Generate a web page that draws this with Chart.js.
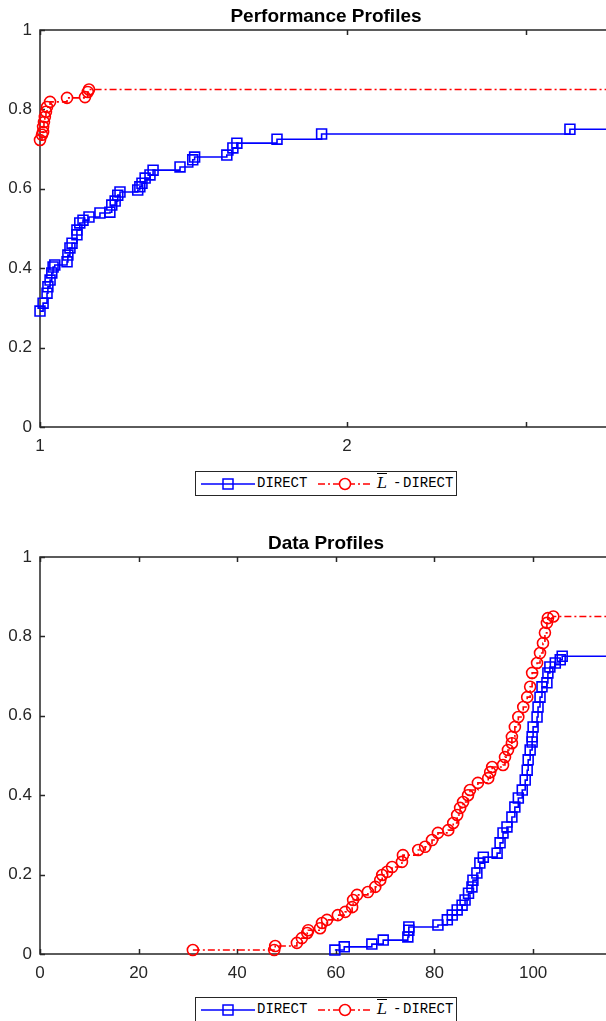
<!DOCTYPE html>
<html>
<head>
<meta charset="utf-8">
<script src="https://cdn.jsdelivr.net/npm/chart.js@4.4.1/dist/chart.umd.min.js"></script>
<style>
    html, body { margin: 0; padding: 0; background: #fff; width: 606px; height: 1021px; overflow: hidden; }
    .panel { position: absolute; left: 0; }
    canvas { display: block; }
    .legend {
        position: absolute; left: 195px; width: 260px; height: 23px;
        border: 1px solid #262626; background: #fff;
        font-family: 'Liberation Mono', 'DejaVu Sans Mono', monospace; font-size: 14px; color: #000;
    }
    .legend > * { position: absolute; top: 0; line-height: 23px; }
    .legend svg { top: 5px; }
    .lbar { font-family: 'DejaVu Serif', 'Liberation Serif', serif; font-style: italic; text-decoration: overline; font-size: 15px; }
</style>
</head>
<body>
<div class="panel" style="top:0"><canvas id="perfChart" width="640" height="460"></canvas></div>
<div class="legend" id="perfLegend" style="top:471px"></div>
<div class="panel" style="top:527px"><canvas id="dataChart" width="640" height="460"></canvas></div>
<div class="legend" id="dataLegend" style="top:997px"></div>

<script>
// 1. Data
const seriesLabels = ['DIRECT', 'L\u0304 - DIRECT'];
const yTicks = [0, 0.2, 0.4, 0.6, 0.8, 1];

// performance profiles (log x axis)
const perfXTicks = [1, 2, 3];
const perfXTickLabels = ['1', '2', ''];
const perfXMax = 3.64;
const perfDirectX = [1.000, 1.007, 1.016, 1.018, 1.023, 1.027, 1.030, 1.034, 1.063, 1.065, 1.070, 1.075, 1.087, 1.087,
    1.094, 1.102, 1.117, 1.145, 1.171, 1.176, 1.185, 1.192, 1.198, 1.247, 1.253, 1.259, 1.268, 1.282, 1.291,
    1.372, 1.412, 1.418, 1.525, 1.546, 1.560, 1.708, 1.889, 3.310];
const perfDirectY = [0.292, 0.312, 0.337, 0.353, 0.370, 0.388, 0.403, 0.408, 0.416, 0.433, 0.451, 0.463, 0.484, 0.496,
    0.514, 0.521, 0.529, 0.539, 0.541, 0.559, 0.569, 0.584, 0.592, 0.597, 0.605, 0.614, 0.627, 0.635, 0.647,
    0.655, 0.673, 0.680, 0.685, 0.703, 0.715, 0.725, 0.738, 0.750];
const perfLDirectX = [1.000, 1.0045, 1.007, 1.007, 1.009, 1.011, 1.0136, 1.016, 1.023, 1.063, 1.107, 1.114, 1.117];
const perfLDirectY = [0.723, 0.736, 0.743, 0.756, 0.768, 0.781, 0.794, 0.806, 0.819, 0.829, 0.831, 0.844, 0.850];

// data profiles (linear x axis)
const dataXTicks = [0, 20, 40, 60, 80, 100];
const dataXMax = 116;
const dataDirectX = [59.8, 61.7, 67.3, 69.6, 74.6, 74.8, 74.8, 80.7, 82.6, 83.6, 84.6, 85.6, 86.2, 86.9, 87.6, 87.8,
    88.6, 89.2, 89.9, 92.7, 93.3, 93.9, 94.7, 95.7, 96.3, 97.0, 97.8, 98.4, 98.8, 99.0, 99.4, 99.8, 99.8, 100.0,
    100.8, 101.0, 101.4, 101.8, 102.8, 103.0, 103.4, 104.5, 105.5, 105.9];
const dataDirectY = [0.010, 0.018, 0.025, 0.035, 0.043, 0.060, 0.068, 0.073, 0.086, 0.098, 0.111, 0.123, 0.136, 0.153,
    0.169, 0.186, 0.204, 0.229, 0.244, 0.254, 0.280, 0.305, 0.320, 0.345, 0.370, 0.393, 0.413, 0.438, 0.463,
    0.489, 0.514, 0.534, 0.547, 0.572, 0.597, 0.622, 0.647, 0.673, 0.683, 0.708, 0.723, 0.733, 0.741, 0.750];
const dataLDirectX = [31.0, 47.5, 47.7, 52.1, 53.1, 54.2, 54.4, 56.8, 57.2, 58.2, 60.4, 61.9, 63.3, 63.5, 64.3, 66.5,
    68.0, 69.0, 69.4, 70.4, 71.4, 73.4, 73.6, 76.7, 78.1, 79.5, 80.7, 82.8, 83.8, 84.6, 85.2, 85.8, 86.8, 87.2,
    88.8, 90.9, 91.3, 91.7, 93.9, 94.3, 94.9, 95.7, 95.7, 96.3, 97.0, 98.0, 98.8, 99.4, 99.8, 100.8, 101.4,
    102.0, 102.4, 102.8, 103.0, 104.1];
const dataLDirectY = [0.010, 0.010, 0.020, 0.028, 0.040, 0.053, 0.060, 0.065, 0.078, 0.086, 0.098, 0.106, 0.118, 0.136,
    0.149, 0.156, 0.169, 0.186, 0.199, 0.207, 0.219, 0.232, 0.249, 0.262, 0.270, 0.287, 0.305, 0.312, 0.330,
    0.350, 0.368, 0.383, 0.400, 0.413, 0.431, 0.443, 0.458, 0.471, 0.476, 0.496, 0.514, 0.531, 0.547, 0.572,
    0.597, 0.622, 0.647, 0.673, 0.708, 0.733, 0.758, 0.783, 0.809, 0.834, 0.846, 0.850];

// 2. Styling
const axisColor = '#262626';
const blue = '#0000ff';
const red = '#ff0000';
const sansFont = "'Liberation Sans', Arial, Helvetica, sans-serif";

// frame + inward ticks, MATLAB style
const matlabAxes = {
    id: 'matlabAxes',
    beforeDatasetsDraw(chart) {
        const { ctx, chartArea: a, scales: { x, y } } = chart;
        ctx.save();
        ctx.strokeStyle = axisColor;
        ctx.lineWidth = 1.5;
        ctx.strokeRect(a.left, a.top, a.right - a.left, a.bottom - a.top);
        ctx.beginPath();
        x.ticks.forEach(t => {
            const px = Math.round(x.getPixelForValue(t.value)) + 0.5;
            ctx.moveTo(px, a.bottom); ctx.lineTo(px, a.bottom - 5);
            ctx.moveTo(px, a.top); ctx.lineTo(px, a.top + 5);
        });
        y.ticks.forEach(t => {
            const py = Math.round(y.getPixelForValue(t.value)) + 0.5;
            ctx.moveTo(a.left, py); ctx.lineTo(a.left + 5, py);
            ctx.moveTo(a.right, py); ctx.lineTo(a.right - 5, py);
        });
        ctx.stroke();
        ctx.restore();
    }
};

const toPoints = (xs, ys, xMax) => {
    const pts = xs.map((x, i) => ({ x, y: ys[i] }));
    pts.push({ x: xMax, y: ys[ys.length - 1] }); // carry the last level to the axis edge
    return pts;
};

const makeDatasets = (directX, directY, lDirectX, lDirectY, xMax) => {
    const noLastMarker = r => ctx => ctx.dataIndex === ctx.dataset.data.length - 1 ? 0 : r;
    return [
        {
            label: seriesLabels[0], data: toPoints(directX, directY, xMax),
            borderColor: blue, borderWidth: 1.6, stepped: true,
            pointStyle: 'rect', pointRadius: noLastMarker(7), pointBorderColor: blue,
            pointBackgroundColor: 'rgba(0,0,0,0)', pointBorderWidth: 1.6
        },
        {
            label: seriesLabels[1], data: toPoints(lDirectX, lDirectY, xMax),
            borderColor: red, borderWidth: 1.6, stepped: true, borderDash: [7, 3, 2, 3],
            pointStyle: 'circle', pointRadius: noLastMarker(5.5), pointBorderColor: red,
            pointBackgroundColor: 'rgba(0,0,0,0)', pointBorderWidth: 1.6
        }
    ];
};

const makeOptions = (title, xScale) => ({
    responsive: false, animation: false, events: [],
    layout: { padding: { left: 0, right: 28, top: 0, bottom: 0 } },
    plugins: {
        legend: { display: false }, tooltip: { enabled: false },
        title: {
            display: true, text: title, fullSize: false, color: '#000',
            font: { family: sansFont, size: 19, weight: 'bold' },
            padding: { top: 5, bottom: 2.2 }
        }
    },
    scales: {
        x: Object.assign({
            grid: { display: false, drawTicks: false }, border: { display: false },
            afterFit: s => { s.height = 33; }
        }, xScale),
        y: {
            type: 'linear', min: 0, max: 1,
            afterBuildTicks: s => { s.ticks = yTicks.map(v => ({ value: v })); },
            ticks: {
                color: axisColor, font: { family: sansFont, size: 17 }, padding: 8,
                callback: v => (v === 0 || v === 1) ? String(v) : v.toFixed(1)
            },
            grid: { display: false, drawTicks: false }, border: { display: false },
            afterFit: s => { s.width = 40; }
        }
    },
    datasets: { line: { clip: false } }
});

// 3. Charts
new Chart(document.getElementById('perfChart'), {
    type: 'line',
    data: { datasets: makeDatasets(perfDirectX, perfDirectY, perfLDirectX, perfLDirectY, perfXMax) },
    options: makeOptions('Performance Profiles', {
        type: 'logarithmic', min: 1, max: perfXMax,
        afterBuildTicks: s => { s.ticks = perfXTicks.map(v => ({ value: v })); },
        ticks: {
            color: axisColor, font: { family: sansFont, size: 17 }, padding: 9,
            autoSkip: false, maxRotation: 0, callback: (v, i) => perfXTickLabels[i]
        }
    }),
    plugins: [matlabAxes]
});

new Chart(document.getElementById('dataChart'), {
    type: 'line',
    data: { datasets: makeDatasets(dataDirectX, dataDirectY, dataLDirectX, dataLDirectY, dataXMax) },
    options: makeOptions('Data Profiles', {
        type: 'linear', min: 0, max: dataXMax,
        afterBuildTicks: s => { s.ticks = dataXTicks.map(v => ({ value: v })); },
        ticks: {
            color: axisColor, font: { family: sansFont, size: 17 }, padding: 9,
            autoSkip: false, maxRotation: 0, callback: v => String(v)
        }
    }),
    plugins: [matlabAxes]
});

// 4. Legends (line sample + marker + label, boxed)
const buildLegend = (id) => {
    const el = document.getElementById(id);
    el.innerHTML =
        '<svg width="54" height="14" style="left:5px">' +
            '<line x1="0" y1="7" x2="54" y2="7" stroke="' + blue + '" stroke-width="1.5"/>' +
            '<rect x="22" y="2" width="10" height="10" fill="none" stroke="' + blue + '" stroke-width="1.5"/></svg>' +
        '<span style="left:61px">' + seriesLabels[0] + '</span>' +
        '<svg width="54" height="14" style="left:122px">' +
            '<line x1="0" y1="7" x2="54" y2="7" stroke="' + red + '" stroke-width="1.5" stroke-dasharray="7 3 2 3"/>' +
            '<circle cx="27" cy="7" r="5.5" fill="#fff" stroke="' + red + '" stroke-width="1.5"/></svg>' +
        '<span class="lbar" style="left:181px">L</span>' +
        '<span style="left:197px">-</span>' +
        '<span style="left:207px">' + seriesLabels[0] + '</span>';
};
buildLegend('perfLegend');
buildLegend('dataLegend');
</script>
</body>
</html>
